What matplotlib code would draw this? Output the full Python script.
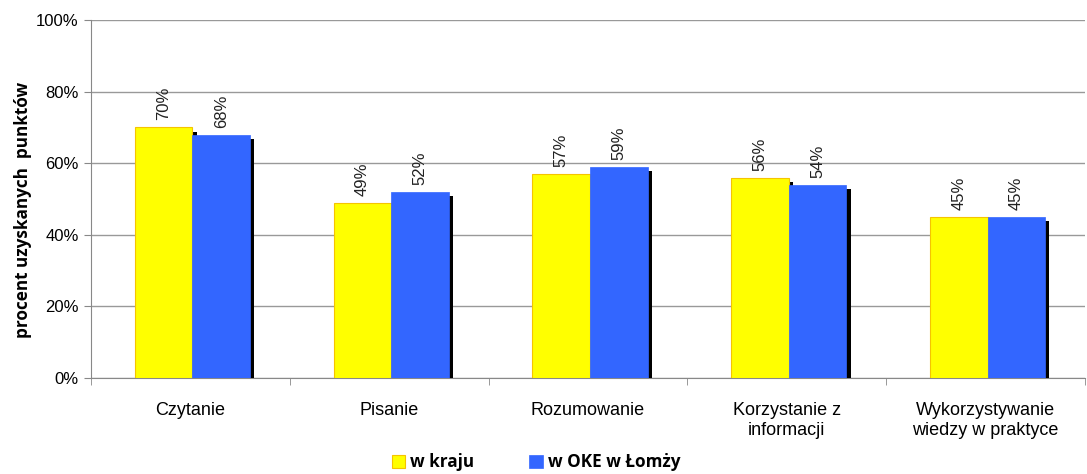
import numpy as np
import matplotlib
matplotlib.use("Agg")
import matplotlib.pyplot as plt
import matplotlib.patheffects as pe
from matplotlib.ticker import FixedLocator, PercentFormatter

categories = ["Czytanie", "Pisanie", "Rozumowanie", "Korzystanie z\ninformacji",
              "Wykorzystywanie\nwiedzy w praktyce"]
kraj = [70, 49, 57, 56, 45]
oke = [68, 52, 59, 54, 45]
series_names = ["w kraju", "w OKE w Łomży"]

plt.rcParams['font.family'] = ['Liberation Sans', 'DejaVu Sans']

fig = plt.figure(figsize=(10.87, 4.74), dpi=100)
ax = fig.add_axes([91 / 1087, 1 - 378 / 474, (1085 - 91) / 1087, (378 - 20) / 474])

x = np.arange(len(categories))
w = 0.29
shadow = [pe.SimplePatchShadow(offset=(3, -3), shadow_rgbFace='black', alpha=1.0), pe.Normal()]

b1 = ax.bar(x - w / 2 + 0.01, kraj, w, color='#FFFF00', edgecolor='#F5C400', linewidth=0.8,
            label=series_names[0], zorder=3, path_effects=shadow)
b2 = ax.bar(x + w / 2 + 0.01, oke, w, color='#3366FF', edgecolor='#3366FF', linewidth=0.5,
            label=series_names[1], zorder=4, path_effects=shadow)

for bars, vals in ((b1, kraj), (b2, oke)):
    for r, v in zip(bars, vals):
        ax.annotate(f"{v}%", (r.get_x() + r.get_width() / 2, v), xytext=(0, 5),
                    textcoords='offset points', rotation=90, ha='center', va='bottom',
                    fontsize=12, color='#222222', zorder=5)

ax.set_xlim(-0.5, len(categories) - 0.5)
ax.set_ylim(0, 100)
ax.yaxis.set_major_locator(FixedLocator([0, 20, 40, 60, 80, 100]))
ax.yaxis.set_major_formatter(PercentFormatter(decimals=0))
ax.set_xticks(x)
ax.set_xticklabels(categories, fontsize=13, linespacing=1.25)
ax.xaxis.set_minor_locator(FixedLocator(np.arange(len(categories) + 1) - 0.5))
ax.tick_params(axis='x', which='major', length=0, pad=17)
ax.tick_params(axis='x', which='minor', length=5, color='#888888', direction='out')
ax.tick_params(axis='y', length=5, color='#888888', labelsize=12, pad=4)

ax.grid(axis='y', color='#999999', linewidth=1, zorder=0)
ax.set_axisbelow(True)
for s in ('top', 'right'):
    ax.spines[s].set_visible(False)
for s in ('left', 'bottom'):
    ax.spines[s].set_color('#888888')

ax.set_ylabel("procent uzyskanych  punktów", fontsize=12.3, fontweight='bold',
              family=['Open Sans', 'DejaVu Sans'])
ax.yaxis.set_label_coords(-0.059, 0.47)

leg = fig.legend(handles=[b1, b2], loc='center', bbox_to_anchor=(536 / 1087, 1 - 462 / 474),
                 ncol=2, frameon=False, handlelength=0.8, handleheight=0.8,
                 handletextpad=0.3, columnspacing=3.2,
                 prop={'family': ['Open Sans', 'DejaVu Sans'], 'weight': 'bold', 'size': 12.3})
for h in leg.legend_handles:
    h.set_path_effects([])

fig.savefig("out.png", dpi=100)
